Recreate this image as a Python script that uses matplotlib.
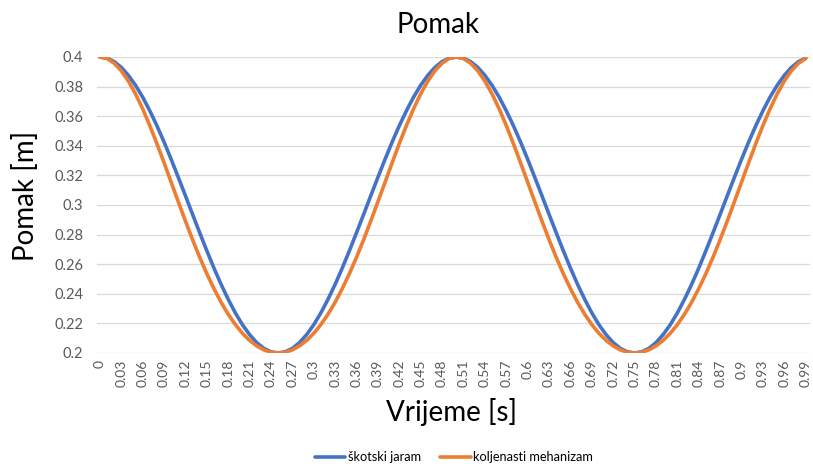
import matplotlib
matplotlib.use('Agg')
import matplotlib.pyplot as plt

# vrijeme [s], svaki 0.01 s
vrijeme = [round(i * 0.01, 2) for i in range(100)]

# pomak [m] - ocitano sa slike
skotski_jaram = [
    0.4000, 0.3992, 0.3969, 0.3930, 0.3876, 0.3809, 0.3729, 0.3637, 0.3536, 0.3426,
    0.3309, 0.3187, 0.3063, 0.2937, 0.2813, 0.2691, 0.2574, 0.2464, 0.2363, 0.2271,
    0.2191, 0.2124, 0.2070, 0.2031, 0.2008, 0.2000, 0.2008, 0.2031, 0.2070, 0.2124,
    0.2191, 0.2271, 0.2363, 0.2464, 0.2574, 0.2691, 0.2813, 0.2937, 0.3063, 0.3187,
    0.3309, 0.3426, 0.3536, 0.3637, 0.3729, 0.3809, 0.3876, 0.3930, 0.3969, 0.3992,
    0.4000, 0.3992, 0.3969, 0.3930, 0.3876, 0.3809, 0.3729, 0.3637, 0.3536, 0.3426,
    0.3309, 0.3187, 0.3063, 0.2937, 0.2813, 0.2691, 0.2574, 0.2464, 0.2363, 0.2271,
    0.2191, 0.2124, 0.2070, 0.2031, 0.2008, 0.2000, 0.2008, 0.2031, 0.2070, 0.2124,
    0.2191, 0.2271, 0.2363, 0.2464, 0.2574, 0.2691, 0.2813, 0.2937, 0.3063, 0.3187,
    0.3309, 0.3426, 0.3536, 0.3637, 0.3729, 0.3809, 0.3876, 0.3930, 0.3969, 0.3992,
]

koljenasti_mehanizam = [
    0.4000, 0.3990, 0.3958, 0.3907, 0.3837, 0.3751, 0.3650, 0.3537, 0.3415, 0.3286,
    0.3154, 0.3022, 0.2892, 0.2766, 0.2647, 0.2536, 0.2435, 0.2343, 0.2262, 0.2192,
    0.2133, 0.2085, 0.2048, 0.2021, 0.2005, 0.2000, 0.2005, 0.2021, 0.2048, 0.2085,
    0.2133, 0.2192, 0.2262, 0.2343, 0.2435, 0.2536, 0.2647, 0.2766, 0.2892, 0.3022,
    0.3154, 0.3286, 0.3415, 0.3537, 0.3650, 0.3751, 0.3837, 0.3907, 0.3958, 0.3990,
    0.4000, 0.3990, 0.3958, 0.3907, 0.3837, 0.3751, 0.3650, 0.3537, 0.3415, 0.3286,
    0.3154, 0.3022, 0.2892, 0.2766, 0.2647, 0.2536, 0.2435, 0.2343, 0.2262, 0.2192,
    0.2133, 0.2085, 0.2048, 0.2021, 0.2005, 0.2000, 0.2005, 0.2021, 0.2048, 0.2085,
    0.2133, 0.2192, 0.2262, 0.2343, 0.2435, 0.2536, 0.2647, 0.2766, 0.2892, 0.3022,
    0.3154, 0.3286, 0.3415, 0.3537, 0.3650, 0.3751, 0.3837, 0.3907, 0.3958, 0.3990,
]

y_ticks = [0.2, 0.22, 0.24, 0.26, 0.28, 0.3, 0.32, 0.34, 0.36, 0.38, 0.4]


def main():
    plt.rcParams['font.family'] = ['Lato', 'DejaVu Sans']

    fig = plt.figure(figsize=(8.13, 4.66), dpi=100)
    ax = fig.add_axes([97 / 813, 1 - 353 / 466, (810 - 97) / 813, (353 - 57) / 466])

    idx = list(range(len(vrijeme)))
    ax.plot(idx, skotski_jaram, color='#4472C4', linewidth=2.6, label='škotski jaram',
            solid_capstyle='round')
    ax.plot(idx, koljenasti_mehanizam, color='#ED7D31', linewidth=2.6,
            label='koljenasti mehanizam', solid_capstyle='round')

    # kategorijska os kao u Excelu: oznaka na svakoj trecoj tocki
    ax.set_xticks(idx[::3])
    ax.set_xticklabels([f'{v:g}' for v in vrijeme[::3]], rotation=90,
                       fontsize=10, color='#595959')
    ax.set_yticks(y_ticks)
    ax.set_yticklabels([f'{v:g}' for v in y_ticks], fontsize=10.5, color='#595959')
    ax.set_xlim(-0.4, 99.6)
    ax.set_ylim(0.2, 0.4)
    ax.tick_params(axis='x', length=0, pad=5)
    ax.tick_params(axis='y', length=0, pad=10)

    ax.grid(True, axis='y', color='#D9D9D9', linewidth=0.9)
    ax.set_axisbelow(True)
    for s in ax.spines.values():
        s.set_visible(False)

    fig.text(438 / 813, 1 - 25 / 466, 'Pomak', fontsize=20, ha='center', va='center',
             color='#000000')
    fig.text(26 / 813, 1 - 196 / 466, 'Pomak [m]', fontsize=20, rotation=90,
             ha='center', va='center')
    fig.text(451 / 813, 1 - 412 / 466, 'Vrijeme [s]', fontsize=20, ha='center',
             va='center')

    fig.legend(loc='center', bbox_to_anchor=(454 / 813, 1 - 457 / 466), ncol=2,
               frameon=False, fontsize=9.2, handlelength=2.4, handletextpad=0.2,
               columnspacing=1.5)

    fig.savefig('out.png', dpi=100)


if __name__ == '__main__':
    main()
